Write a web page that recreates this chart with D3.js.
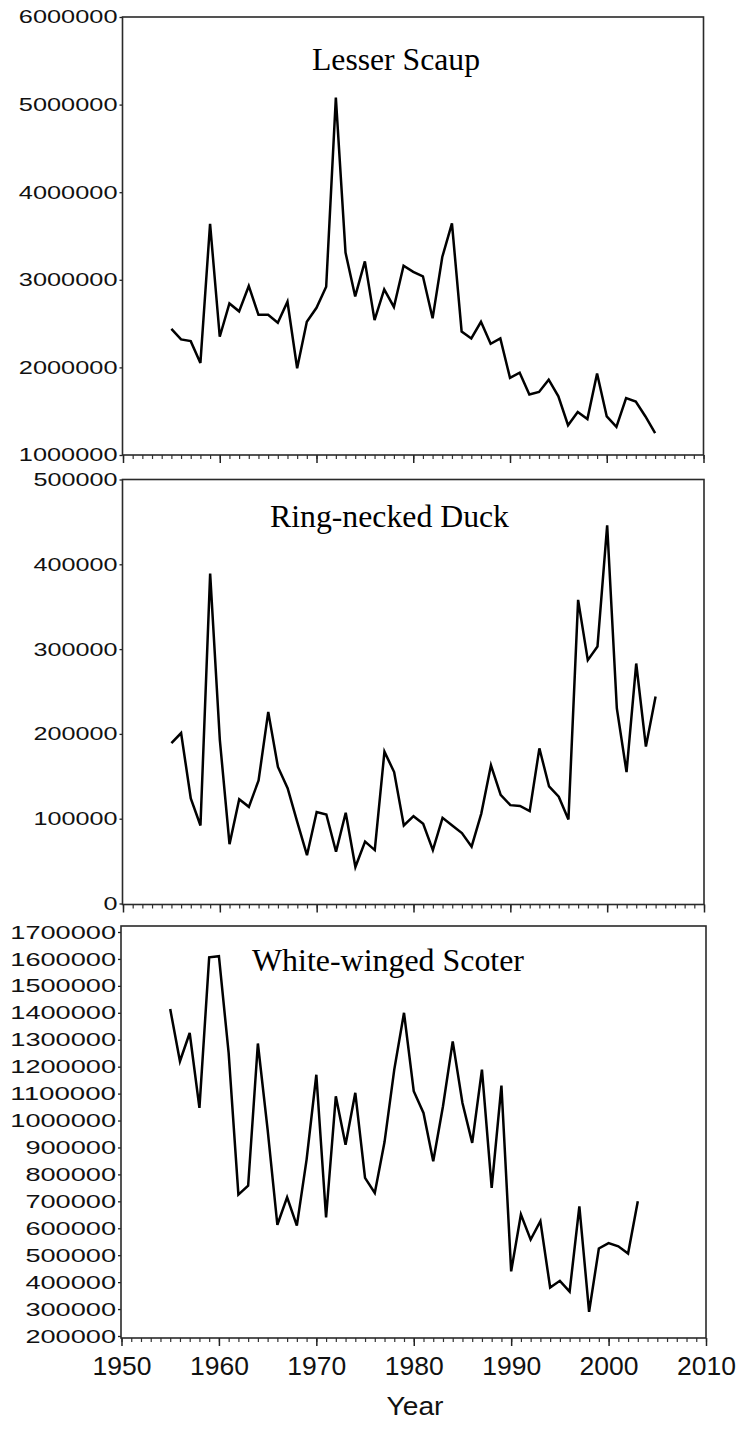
<!DOCTYPE html>
<html>
<head>
<meta charset="utf-8">
<script src="https://cdn.jsdelivr.net/npm/d3@7"></script>
<style>
  body { margin: 0; background: #fff; }
  svg { display: block; }
</style>
</head>
<body>
<div id="container"></div>
<script>
// survey years (x categories)
var years = [1955, 1956, 1957, 1958, 1959, 1960, 1961, 1962, 1963, 1964,
    1965, 1966, 1967, 1968, 1969, 1970, 1971, 1972, 1973, 1974,
    1975, 1976, 1977, 1978, 1979, 1980, 1981, 1982, 1983, 1984,
    1985, 1986, 1987, 1988, 1989, 1990, 1991, 1992, 1993, 1994,
    1995, 1996, 1997, 1998, 1999, 2000, 2001, 2002, 2003, 2004, 2005];

var lesserScaup = [2440000, 2320000, 2300000, 2050000, 3640000, 2350000, 2730000, 2640000, 2930000, 2600000,
    2600000, 2510000, 2750000, 1990000, 2520000, 2680000, 2920000, 5080000, 3310000, 2810000,
    3210000, 2540000, 2890000, 2690000, 3160000, 3090000, 3040000, 2560000, 3260000, 3645000,
    2410000, 2330000, 2520000, 2270000, 2330000, 1880000, 1940000, 1690000, 1720000, 1860000,
    1670000, 1340000, 1490000, 1410000, 1930000, 1440000, 1320000, 1650000, 1610000, 1440000, 1250000];

var ringNecked = [189000, 201000, 124000, 92000, 389000, 193000, 70000, 123000, 114000, 145000,
    226000, 161000, 136000, 96000, 57000, 108000, 105000, 61000, 107000, 43000,
    73000, 63000, 179000, 155000, 92000, 103000, 94000, 63000, 101000, 92000,
    83000, 67000, 106000, 163000, 128000, 116000, 115000, 109000, 183000, 138000,
    126000, 99000, 358000, 287000, 303000, 446000, 230000, 155000, 283000, 185000, 244000];

// scoter series stops at 2003
var scoter = [1414000, 1220000, 1325000, 1047000, 1606000, 1610000, 1250000, 725000, 758000, 1286000,
    966000, 613000, 715000, 610000, 855000, 1170000, 640000, 1090000, 910000, 1103000,
    787000, 731000, 920000, 1189000, 1400000, 1109000, 1028000, 849000, 1053000, 1294000,
    1065000, 917000, 1189000, 750000, 1130000, 440000, 651000, 558000, 626000, 380000,
    405000, 365000, 681000, 290000, 525000, 545000, 533000, 506000, 700000];

var titles = ["Lesser Scaup", "Ring-necked Duck", "White-winged Scoter"];
var ticksScaup = [1000000, 2000000, 3000000, 4000000, 5000000, 6000000];
var ticksRing = [0, 100000, 200000, 300000, 400000, 500000];
var ticksScoter = [200000, 300000, 400000, 500000, 600000, 700000, 800000, 900000, 1000000,
    1100000, 1200000, 1300000, 1400000, 1500000, 1600000, 1700000];
var decadeLabels = [1950, 1960, 1970, 1980, 1990, 2000, 2010];
var xTitle = "Year";

let svg = d3.select('#container')
    .append('svg')
    .attr('width', 738)
    .attr('height', 1429);

svg.append('rect')
    .attr('width', 738)
    .attr('height', 1429)
    .attr('fill', '#ffffff');

var lineFunction = d3.line()
    .x(function (d) { return d.x; })
    .y(function (d) { return d.y; })
    .curve(d3.curveLinear);

// panel layout (pixel boxes)
var panels = [
    { values: lesserScaup, ticks: ticksScaup, title: titles[0],
      left: 122.5, right: 703.5, top: 17, bottom: 455, yTop: 17, yBottom: 455,
      digitW: 14.1, labelSize: 18.5, titleX: 312, titleY: 70, titleW: 168, xLabels: false },
    { values: ringNecked, ticks: ticksRing, title: titles[1],
      left: 122.5, right: 704, top: 479.5, bottom: 904.5, yTop: 479.5, yBottom: 903.5,
      digitW: 14, labelSize: 18.5, titleX: 270, titleY: 526.5, titleW: 239, xLabels: false },
    { values: scoter, ticks: ticksScoter, title: titles[2],
      left: 121, right: 706, top: 926, bottom: 1338, yTop: 932, yBottom: 1336,
      digitW: 15.1, labelSize: 19, titleX: 252, titleY: 970.5, titleW: 272, xLabels: true }
];

panels.forEach(function (p) {
    var x = d3.scaleLinear().domain([1950, 2010]).range([p.left + 0.5, p.right]);
    var y = d3.scaleLinear()
        .domain([p.ticks[0], p.ticks[p.ticks.length - 1]])
        .range([p.yBottom, p.yTop]);

    // x ticks: every year small, every decade longer
    var minor = svg.append('g')
        .attr('transform', 'translate(0,' + p.bottom + ')')
        .call(d3.axisBottom(x).tickValues(d3.range(1950, 2011)).tickSize(4).tickFormat(''));
    minor.select('.domain').remove();
    minor.selectAll('line').attr('stroke', '#333').attr('stroke-width', 1.2);

    var major = svg.append('g')
        .attr('transform', 'translate(0,' + p.bottom + ')')
        .call(d3.axisBottom(x).tickValues(decadeLabels).tickSize(8)
            .tickFormat(p.xLabels ? d3.format('d') : ''));
    major.select('.domain').remove();
    major.selectAll('line').attr('stroke', '#222').attr('stroke-width', 1.5);
    major.selectAll('text')
        .attr('y', 37)
        .attr('dy', null)
        .attr('fill', '#111')
        .style('font-family', 'Liberation Sans, Arial, sans-serif')
        .style('font-size', '25px')
        .attr('textLength', 59)
        .attr('lengthAdjust', 'spacingAndGlyphs');

    // y axis
    var yAxis = svg.append('g')
        .attr('transform', 'translate(' + p.left + ',0)')
        .call(d3.axisLeft(y).tickValues(p.ticks).tickSize(3).tickPadding(2).tickFormat(d3.format('d')));
    yAxis.select('.domain').remove();
    yAxis.selectAll('line').attr('stroke', '#222').attr('stroke-width', 1.3);
    yAxis.selectAll('text')
        .attr('fill', '#111')
        .style('font-family', 'Liberation Sans, Arial, sans-serif')
        .style('font-size', p.labelSize + 'px')
        .attr('textLength', function (d) { return String(d).length * p.digitW; })
        .attr('lengthAdjust', 'spacingAndGlyphs');

    // frame
    svg.append('rect')
        .attr('x', p.left)
        .attr('y', p.top)
        .attr('width', p.right - p.left)
        .attr('height', p.bottom - p.top)
        .attr('fill', 'none')
        .attr('stroke', '#2a2a2a')
        .attr('stroke-width', 1.6);

    var pts = p.values.map(function (v, i) {
        return { x: x(years[i]), y: y(v) };
    });

    svg.append('path')
        .attr('d', lineFunction(pts))
        .attr('fill', 'none')
        .attr('stroke', '#000')
        .attr('stroke-width', 2.5)
        .attr('stroke-linejoin', 'miter');

    svg.append('text')
        .attr('x', p.titleX)
        .attr('y', p.titleY)
        .attr('textLength', p.titleW)
        .attr('lengthAdjust', 'spacingAndGlyphs')
        .style('font-family', 'Liberation Serif, Times New Roman, serif')
        .style('font-size', '32px')
        .attr('fill', '#000')
        .text(p.title);
});

svg.append('text')
    .attr('x', 415)
    .attr('y', 1415)
    .attr('text-anchor', 'middle')
    .attr('textLength', 57)
    .attr('lengthAdjust', 'spacingAndGlyphs')
    .style('font-family', 'Liberation Sans, Arial, sans-serif')
    .style('font-size', '25px')
    .attr('fill', '#111')
    .text(xTitle);
</script>
</body>
</html>
